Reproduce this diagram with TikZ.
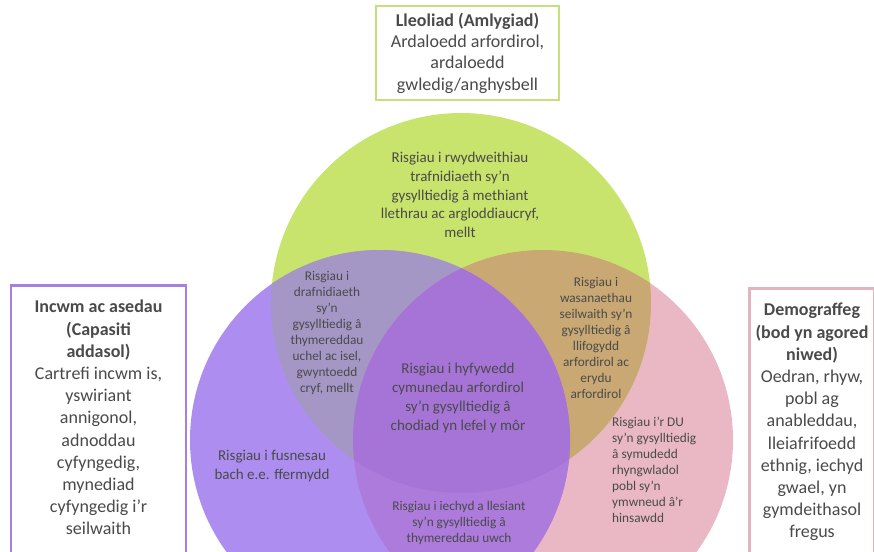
\documentclass[tikz,border=0pt]{standalone}
\usepackage{fontspec}
\setmainfont{Carlito}
\definecolor{txtgray}{HTML}{4A4A4A}
\definecolor{greenfill}{HTML}{C9E46C}
\definecolor{purplefill}{HTML}{AD8EF0}
\definecolor{pinkfill}{HTML}{E9B8C4}
\definecolor{greenpurple}{HTML}{A497C6}
\definecolor{greenpink}{HTML}{C9A874}
\definecolor{purplepink}{HTML}{AD7BDC}
\definecolor{allthree}{HTML}{A574D6}
\definecolor{greenline}{HTML}{C5E07B}
\definecolor{purpleline}{HTML}{A77FE0}
\definecolor{pinkline}{HTML}{E3B3BE}
\begin{document}
\begin{tikzpicture}[x=1pt, y=-1pt,
  keybox/.style={draw, line width=2.5pt, fill=white, align=center, text=txtgray,
    font=\fontsize{18}{22.2}\selectfont, inner xsep=4pt, inner ysep=15pt},
  riskbig/.style={align=center, text=txtgray, inner sep=0pt, font=\fontsize{15}{18.7}\selectfont},
  risksmall/.style={align=center, text=txtgray, inner sep=0pt, font=\fontsize{13.3}{16}\selectfont}
]
\useasboundingbox (0,0) rectangle (874,551);
\clip (0,0) rectangle (874,551);
\coordinate (lleoliad) at (461,303);
\coordinate (incwm) at (380,440);
\coordinate (demog) at (543,440);
% circles and their overlaps
\fill[pinkfill] (demog) circle [radius=190pt];
\fill[greenfill] (lleoliad) circle [radius=190pt];
\fill[purplefill] (incwm) circle [radius=190pt];
\begin{scope}
  \clip (lleoliad) circle [radius=190pt];
  \fill[greenpurple] (incwm) circle [radius=190pt];
  \fill[greenpink] (demog) circle [radius=190pt];
\end{scope}
\begin{scope}
  \clip (incwm) circle [radius=190pt];
  \fill[purplepink] (demog) circle [radius=190pt];
  \clip (lleoliad) circle [radius=190pt];
  \fill[allthree] (demog) circle [radius=190pt];
\end{scope}
% risks
\node[riskbig] (rwydwaith) at (460,195) {Risgiau i rwydweithiau\\trafnidiaeth sy'n\\gysylltiedig â methiant\\llethrau ac argloddiaucryf,\\mellt};
\node[risksmall] (drafnidiaeth) at (327,333) {Risgiau i\\drafnidiaeth\\sy'n\\gysylltiedig â\\thymereddau\\uchel ac isel,\\gwyntoedd\\cryf, mellt};
\node[risksmall] (gwasanaethau) at (596,337.5) {Risgiau i\\wasanaethau\\seilwaith sy'n\\gysylltiedig â\\llifogydd\\arfordirol ac\\erydu\\arfordirol};
\node[riskbig] (hyfywedd) at (458,398) {Risgiau i hyfywedd\\cymunedau arfordirol\\sy'n gysylltiedig â\\chodiad yn lefel y môr};
\node[riskbig] (fusnesau) at (272,466) {Risgiau i fusnesau\\bach e.e. ffermydd};
\node[risksmall] (iechyd) at (459,523) {Risgiau i iechyd a llesiant\\sy'n gysylltiedig â\\thymereddau uwch};
\node[risksmall, anchor=west, align=left] (symudedd) at (612,469.5) {Risgiau i'r DU\\sy'n gysylltiedig\\â symudedd\\rhyngwladol\\pobl sy'n\\ymwneud â'r\\hinsawdd};
% factor boxes
\node[keybox, draw=greenline, font=\fontsize{18}{21.3}\selectfont, inner ysep=3pt,
  minimum width=183pt, minimum height=94pt] (lleoliad-box) at (467.5,53)
  {\textbf{Lleoliad (Amlygiad)}\\Ardaloedd arfordirol,\\ardaloedd\\gwledig/anghysbell};
\node[keybox, draw=purpleline, minimum width=175pt, anchor=north] (incwm-box) at (98.5,284)
  {\textbf{Incwm ac asedau}\\\textbf{(Capasiti}\\\textbf{addasol)}\\Cartrefi incwm is,\\yswiriant\\annigonol,\\adnoddau\\cyfyngedig,\\mynediad\\cyfyngedig i'r\\seilwaith\\[20pt]\strut};
\node[keybox, draw=pinkline, minimum width=125pt, anchor=north] (demog-box) at (812,287)
  {\textbf{Demograffeg}\\\textbf{(bod yn agored}\\\textbf{niwed)}\\Oedran, rhyw,\\pobl ag\\anableddau,\\lleiafrifoedd\\ethnig, iechyd\\gwael, yn\\gymdeithasol\\fregus\\[20pt]\strut};
\end{tikzpicture}
\end{document}
